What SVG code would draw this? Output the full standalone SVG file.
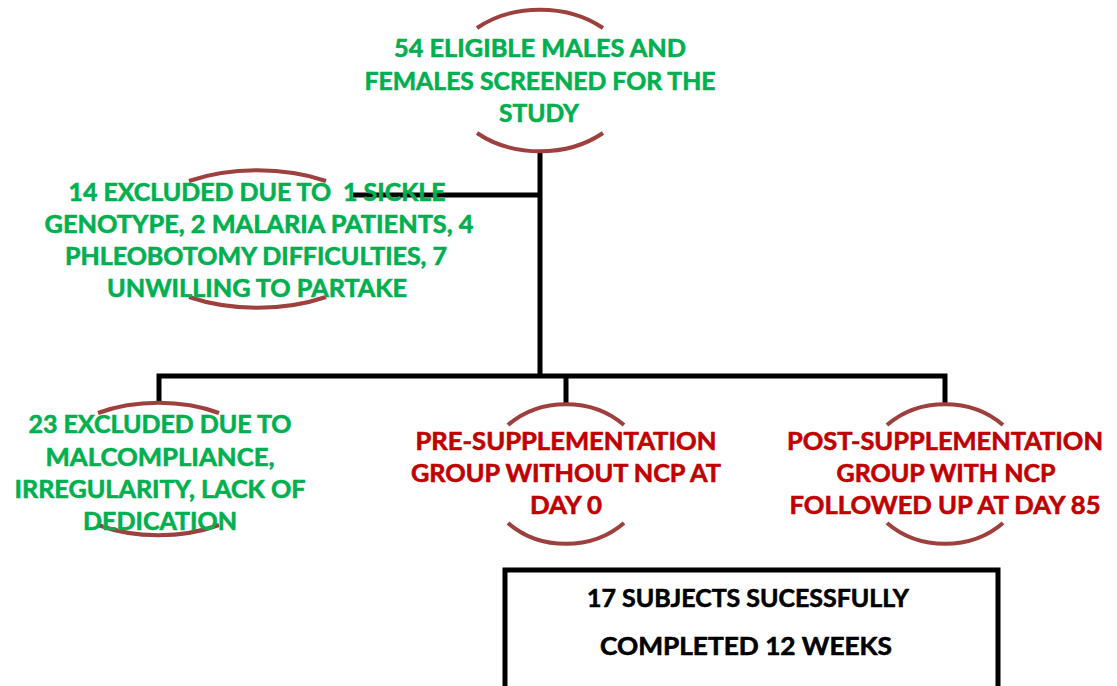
<svg xmlns="http://www.w3.org/2000/svg" width="1117" height="686" viewBox="0 0 1117 686">
<style>
.t{font-family:Lato,"Liberation Sans",sans-serif;font-weight:700;font-size:24.5px;text-anchor:middle;stroke-width:0.6px;paint-order:stroke}
.g{fill:#00B050;stroke:#00B050}
.r{fill:#C00000;stroke:#C00000}
.k{fill:#000000;stroke:#000000}
.arc{fill:none;stroke:#9E403E;stroke-width:4;stroke-linecap:butt}
.ln{fill:none;stroke:#000;stroke-width:5;stroke-linejoin:miter}
</style>
<rect width="1117" height="686" fill="#fff"/>
<g id="connectors">
<path class="ln" d="M540,151 V376"/>
<path class="ln" d="M540,195 H353"/>
<path class="ln" d="M159,403 V376 H945 V403"/>
<path class="ln" d="M566,376 V403"/>
</g>
<g id="node-screened">
<path class="arc" d="M477,28 A94,71 0 0,1 603,28"/>
<path class="arc" d="M477,133 A94,71 0 0,0 603,133"/>
<text class="t g" x="540" y="57" textLength="292" lengthAdjust="spacingAndGlyphs">54 ELIGIBLE MALES AND</text>
<text class="t g" x="540" y="90" textLength="351" lengthAdjust="spacingAndGlyphs">FEMALES SCREENED FOR THE</text>
<text class="t g" x="539" y="122" textLength="80" lengthAdjust="spacingAndGlyphs">STUDY</text>
</g>
<g id="node-excluded14">
<path class="arc" d="M189,181 A128,69 0 0,1 326,181"/>
<path class="arc" d="M189,297 A128,69 0 0,0 326,297"/>
<text class="t g" x="257" y="201" textLength="377" lengthAdjust="spacingAndGlyphs" xml:space="preserve">14 EXCLUDED DUE TO  1 SICKLE</text>
<text class="t g" x="259" y="233" textLength="429" lengthAdjust="spacingAndGlyphs">GENOTYPE, 2 MALARIA PATIENTS, 4</text>
<text class="t g" x="256" y="265" textLength="382" lengthAdjust="spacingAndGlyphs">PHLEOBOTOMY DIFFICULTIES, 7</text>
<text class="t g" x="257" y="297" textLength="300" lengthAdjust="spacingAndGlyphs">UNWILLING TO PARTAKE</text>
</g>
<g id="node-excluded23">
<path class="arc" d="M98,413 A114,67 0 0,1 219,413"/>
<path class="arc" d="M98,525 A114,67 0 0,0 219,525"/>
<text class="t g" x="160" y="433" textLength="263" lengthAdjust="spacingAndGlyphs">23 EXCLUDED DUE TO</text>
<text class="t g" x="160" y="466" textLength="229" lengthAdjust="spacingAndGlyphs">MALCOMPLIANCE,</text>
<text class="t g" x="160" y="498" textLength="291" lengthAdjust="spacingAndGlyphs">IRREGULARITY, LACK OF</text>
<text class="t g" x="160" y="530" textLength="154" lengthAdjust="spacingAndGlyphs">DEDICATION</text>
</g>
<g id="node-pre">
<path class="arc" d="M508,425 A82,71 0 0,1 624,425"/>
<path class="arc" d="M508,523 A82,71 0 0,0 624,523"/>
<text class="t r" x="566" y="450" textLength="301" lengthAdjust="spacingAndGlyphs">PRE-SUPPLEMENTATION</text>
<text class="t r" x="566" y="482" textLength="310" lengthAdjust="spacingAndGlyphs">GROUP WITHOUT NCP AT</text>
<text class="t r" x="566" y="514" textLength="72" lengthAdjust="spacingAndGlyphs">DAY 0</text>
</g>
<g id="node-post">
<path class="arc" d="M887,425 A82,71 0 0,1 1003,425"/>
<path class="arc" d="M887,523 A82,71 0 0,0 1003,523"/>
<text class="t r" x="945" y="450" textLength="316" lengthAdjust="spacingAndGlyphs">POST-SUPPLEMENTATION</text>
<text class="t r" x="946" y="482" textLength="219" lengthAdjust="spacingAndGlyphs">GROUP WITH NCP</text>
<text class="t r" x="945" y="514" textLength="311" lengthAdjust="spacingAndGlyphs">FOLLOWED UP AT DAY 85</text>
</g>
<g id="node-completed">
<rect x="505" y="570" width="493" height="130" fill="none" stroke="#000" stroke-width="5"/>
<text class="t k" x="748" y="607" textLength="322" lengthAdjust="spacingAndGlyphs">17 SUBJECTS SUCESSFULLY</text>
<text class="t k" x="746" y="655" textLength="292" lengthAdjust="spacingAndGlyphs">COMPLETED 12 WEEKS</text>
</g>
</svg>
